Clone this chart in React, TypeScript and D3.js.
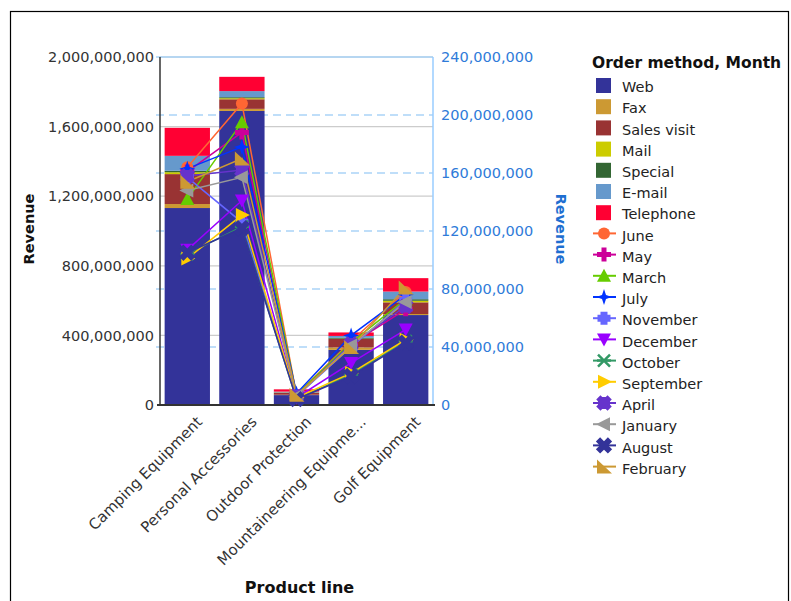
import React, { useRef, useEffect } from 'react';
import * as d3 from 'd3';

// Product lines (x categories)
const categories = [
  'Camping Equipment',
  'Personal Accessories',
  'Outdoor Protection',
  'Mountaineering Equipme...',
  'Golf Equipment',
];

// Stacked bars: revenue by order method (millions, left axis)
const orderMethods = ['Web', 'Fax', 'Sales visit', 'Mail', 'Special', 'E-mail', 'Telephone'];
const methodColors = ['#333399', '#CC9933', '#993333', '#CCCC00', '#336633', '#6699CC', '#FF0033'];
const webRevenue = [1132, 1690, 57, 317, 517];
const faxRevenue = [23, 12, 2, 14, 6];
const salesVisitRevenue = [172, 55, 12, 49, 67];
const mailRevenue = [11, 6, 1, 1, 9];
const specialRevenue = [8, 6, 1, 5, 9];
const emailRevenue = [86, 35, 4, 11, 44];
const telephoneRevenue = [161, 82, 13, 20, 77];
const methodRevenue = [
  webRevenue,
  faxRevenue,
  salesVisitRevenue,
  mailRevenue,
  specialRevenue,
  emailRevenue,
  telephoneRevenue,
];

// Lines: revenue by month (millions, right axis)
const months = [
  'June', 'May', 'March', 'July', 'November', 'December',
  'October', 'September', 'April', 'January', 'August', 'February',
];
const monthColors = [
  '#FF6633', '#CC0099', '#66CC00', '#0033FF', '#6666FF', '#9900FF',
  '#339966', '#FFCC00', '#6633CC', '#999999', '#333399', '#CC9933',
];
const juneRevenue = [164, 208, 7, 44, 78];
const mayRevenue = [161, 188, 6, 42, 66];
const marchRevenue = [142, 195, 7, 43, 73];
const julyRevenue = [163, 178, 8, 48, 76];
const novemberRevenue = [157, 126, 6, 40, 72];
const decemberRevenue = [107, 141, 5, 29, 52];
const octoberRevenue = [104, 123, 4, 21, 44];
const septemberRevenue = [101, 131, 5, 22, 45];
const aprilRevenue = [158, 162, 6, 42, 68];
const januaryRevenue = [148, 157, 6, 41, 71];
const augustRevenue = [105, 122, 4, 20, 43];
const februaryRevenue = [154, 170, 7, 40, 81];
const monthRevenue = [
  juneRevenue, mayRevenue, marchRevenue, julyRevenue, novemberRevenue, decemberRevenue,
  octoberRevenue, septemberRevenue, aprilRevenue, januaryRevenue, augustRevenue, februaryRevenue,
];

const leftTicks = [0, 400, 800, 1200, 1600, 2000];
const rightTicks = [0, 40, 80, 120, 160, 200, 240];

const FONT = 'DejaVu Sans, Verdana, sans-serif';

// marker shapes, centred on 0,0
const markerPath = (month: string): string => {
  const poly = (pts: number[][]) => 'M' + pts.map((p) => p.join(',')).join('L') + 'Z';
  const rot = (pts: number[][]) =>
    pts.map(([x, y]) => [+(x * Math.SQRT1_2 - y * Math.SQRT1_2).toFixed(2), +(x * Math.SQRT1_2 + y * Math.SQRT1_2).toFixed(2)]);
  const plus = (a: number, w: number) => [
    [-w, -a], [w, -a], [w, -w], [a, -w], [a, w], [w, w], [w, a], [-w, a], [-w, w], [-a, w], [-a, -w], [-w, -w],
  ];
  switch (month) {
    case 'June':
      return 'M-6,0A6,6 0 1,0 6,0A6,6 0 1,0 -6,0Z';
    case 'May':
      return poly(plus(7, 2.5));
    case 'March':
      return poly([[0, -7], [7, 6], [-7, 6]]);
    case 'July':
      return poly([[0, -8], [2, -2], [8, 0], [2, 2], [0, 8], [-2, 2], [-8, 0], [-2, -2]]);
    case 'November':
      return poly(plus(6.5, 3.5));
    case 'December':
      return poly([[-7, -6], [7, -6], [0, 7]]);
    case 'October':
      return 'M-6,-6L6,6M-6,6L6,-6M-7,0L7,0';
    case 'September':
      return poly([[-6, -7], [8, 0], [-6, 7]]);
    case 'April':
      return poly(rot(plus(8, 3))) + poly(plus(6, 3));
    case 'January':
      return poly([[6, -7], [-8, 0], [6, 7]]);
    case 'August':
      return poly(rot(plus(8.5, 3)));
    default:
      return poly([[-7, -7], [8, 7], [-7, 7]]);
  }
};

const App: React.FC = () => {
  const svgRef = useRef<SVGSVGElement>(null);
  const width = 791;
  const height = 601;

  useEffect(() => {
    if (!svgRef.current) return;
    const svg = d3.select(svgRef.current);
    svg.selectAll('*').remove();

    const margin = { top: 57, left: 160, right: 358, bottom: 196 };
    const innerWidth = width - margin.left - margin.right;
    const innerHeight = height - margin.top - margin.bottom;

    // frame
    svg.append('rect')
      .attr('x', 10.5).attr('y', 11.5)
      .attr('width', 778).attr('height', 600)
      .attr('fill', 'white').attr('stroke', '#000').attr('stroke-width', 1.2);

    const xScale = d3.scaleBand().domain(categories).range([0, innerWidth]).paddingInner(0.17).paddingOuter(0.085);
    const yLeft = d3.scaleLinear().domain([0, 2000]).range([innerHeight, 0]);
    const yRight = d3.scaleLinear().domain([0, 240]).range([innerHeight, 0]);

    const g = svg.append('g').attr('transform', `translate(${margin.left},${margin.top})`);

    // left grid lines
    g.append('g')
      .selectAll('line')
      .data(leftTicks.slice(1))
      .enter()
      .append('line')
      .attr('x1', 0).attr('x2', innerWidth)
      .attr('y1', (d) => yLeft(d)).attr('y2', (d) => yLeft(d))
      .attr('stroke', '#cccccc').attr('stroke-width', 1.3);

    // right dashed grid lines
    g.append('g')
      .selectAll('line')
      .data(rightTicks.slice(1))
      .enter()
      .append('line')
      .attr('x1', -4).attr('x2', innerWidth)
      .attr('y1', (d) => yRight(d)).attr('y2', (d) => yRight(d))
      .attr('stroke', '#aad4f8').attr('stroke-width', 1.5)
      .attr('stroke-dasharray', (d) => (d === 240 ? null : '8,5'));

    // stacked bars
    const stackRows = categories.map((c, i) => {
      const row: any = { category: c };
      orderMethods.forEach((m, j) => (row[m] = methodRevenue[j][i]));
      return row;
    });
    const stacked = d3.stack<any>().keys(orderMethods)(stackRows);
    stacked.forEach((layer, j) => {
      g.append('g')
        .selectAll('rect')
        .data(layer)
        .enter()
        .append('rect')
        .attr('x', (d) => xScale(d.data.category) || 0)
        .attr('width', xScale.bandwidth())
        .attr('y', (d) => yLeft(d[1]))
        .attr('height', (d) => yLeft(d[0]) - yLeft(d[1]))
        .attr('fill', methodColors[j]);
    });

    // axes lines
    g.append('line')
      .attr('x1', 0).attr('x2', 0).attr('y1', 0).attr('y2', innerHeight)
      .attr('stroke', '#333').attr('stroke-width', 1.5);
    g.append('line')
      .attr('x1', innerWidth).attr('x2', innerWidth).attr('y1', 0).attr('y2', innerHeight)
      .attr('stroke', '#99ccff').attr('stroke-width', 1.5);
    g.append('line')
      .attr('x1', -3).attr('x2', innerWidth + 2).attr('y1', innerHeight).attr('y2', innerHeight)
      .attr('stroke', '#333').attr('stroke-width', 2);

    // left tick labels
    g.append('g')
      .selectAll('text')
      .data(leftTicks)
      .enter()
      .append('text')
      .attr('x', -6)
      .attr('y', (d) => yLeft(d))
      .attr('dy', '0.36em')
      .attr('text-anchor', 'end')
      .attr('font-family', FONT)
      .attr('font-size', 14.5)
      .attr('fill', '#333')
      .text((d) => d3.format(',')(d * 1e6));

    // right tick labels
    g.append('g')
      .selectAll('text')
      .data(rightTicks)
      .enter()
      .append('text')
      .attr('x', innerWidth + 8)
      .attr('y', (d) => yRight(d))
      .attr('dy', '0.36em')
      .attr('font-family', FONT)
      .attr('font-size', 14.5)
      .attr('fill', '#2f7bd9')
      .text((d) => d3.format(',')(d * 1e6));

    // x labels
    g.append('g')
      .selectAll('text')
      .data(categories)
      .enter()
      .append('text')
      .attr('transform', (d) => `translate(${(xScale(d) || 0) + xScale.bandwidth() / 2 + 12},${innerHeight + 14}) rotate(-45)`)
      .attr('text-anchor', 'end')
      .attr('dy', '0.36em')
      .attr('font-family', FONT)
      .attr('font-size', 15)
      .attr('fill', '#333')
      .text((d) => d);

    // axis titles
    svg.append('text')
      .attr('transform', `translate(34,${margin.top + innerHeight / 2 - 2}) rotate(-90)`)
      .attr('text-anchor', 'middle')
      .attr('font-family', FONT).attr('font-size', 14.5).attr('font-weight', 'bold')
      .attr('fill', '#111')
      .text('Revenue');
    svg.append('text')
      .attr('transform', `translate(556,${margin.top + innerHeight / 2 - 2}) rotate(90)`)
      .attr('text-anchor', 'middle')
      .attr('font-family', FONT).attr('font-size', 14.5).attr('font-weight', 'bold')
      .attr('fill', '#1f6fd1')
      .text('Revenue');
    svg.append('text')
      .attr('x', margin.left + innerWidth / 2 + 3)
      .attr('y', 593)
      .attr('text-anchor', 'middle')
      .attr('font-family', FONT).attr('font-size', 16).attr('font-weight', 'bold')
      .attr('fill', '#111')
      .text('Product line');

    // month lines
    const cx = (c: string) => (xScale(c) || 0) + xScale.bandwidth() / 2;
    const line = d3
      .line<number>()
      .x((_, i) => cx(categories[i]))
      .y((d) => yRight(d));
    months.forEach((m, k) => {
      g.append('path')
        .datum(monthRevenue[k])
        .attr('fill', 'none')
        .attr('stroke', monthColors[k])
        .attr('stroke-width', 1.5)
        .attr('d', line);
    });
    const isStroke = (m: string) => m === 'October';
    months.forEach((m, k) => {
      g.append('g')
        .selectAll('path')
        .data(monthRevenue[k])
        .enter()
        .append('path')
        .attr('transform', (d, i) => `translate(${cx(categories[i])},${yRight(d)})`)
        .attr('d', markerPath(m))
        .attr('fill', isStroke(m) ? 'none' : monthColors[k])
        .attr('stroke', isStroke(m) ? monthColors[k] : 'none')
        .attr('stroke-width', 2.5);
    });

    // legend
    const legend = svg.append('g').attr('transform', 'translate(592,0)');
    legend.append('text')
      .attr('x', 0).attr('y', 68)
      .attr('font-family', FONT).attr('font-size', 15.5).attr('font-weight', 'bold')
      .attr('fill', '#111')
      .text('Order method, Month');
    const rowY = (i: number) => 87 + i * 21.2;
    orderMethods.forEach((m, i) => {
      legend.append('rect')
        .attr('x', 4).attr('y', rowY(i) - 9)
        .attr('width', 15).attr('height', 15)
        .attr('fill', methodColors[i]);
      legend.append('text')
        .attr('x', 30).attr('y', rowY(i)).attr('dy', '0.36em')
        .attr('font-family', FONT).attr('font-size', 14.5).attr('fill', '#222')
        .text(m);
    });
    months.forEach((m, k) => {
      const i = k + orderMethods.length;
      const yy = rowY(i) - 2;
      legend.append('line')
        .attr('x1', 1).attr('x2', 24).attr('y1', yy).attr('y2', yy)
        .attr('stroke', monthColors[k]).attr('stroke-width', 2);
      legend.append('path')
        .attr('transform', `translate(12,${yy})`)
        .attr('d', markerPath(m))
        .attr('fill', isStroke(m) ? 'none' : monthColors[k])
        .attr('stroke', isStroke(m) ? monthColors[k] : 'none')
        .attr('stroke-width', 2.5);
      legend.append('text')
        .attr('x', 30).attr('y', rowY(i)).attr('dy', '0.36em')
        .attr('font-family', FONT).attr('font-size', 14.5).attr('fill', '#222')
        .text(m);
    });
  }, []);

  return (
    <svg
      ref={svgRef}
      width={width}
      height={height}
      style={{ position: 'absolute', left: 0, top: 0, background: 'white' }}
    />
  );
};

export default App;
